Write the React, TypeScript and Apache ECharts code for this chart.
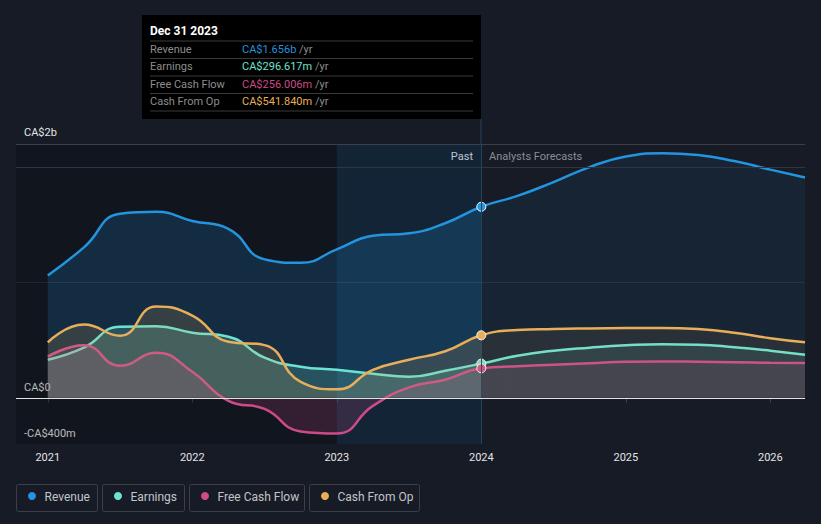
import React, { useEffect, useRef } from 'react';
import * as echarts from 'echarts';

// ---- data (values in CA$ millions) ----
const periods = [2021, 2021.25, 2021.5, 2021.75, 2022, 2022.25, 2022.5, 2022.75, 2023, 2023.25, 2023.5, 2023.75, 2024, 2024.25, 2024.5, 2024.75, 2025, 2025.25, 2025.5, 2025.75, 2026, 2026.24];
const revenue = [1061, 1304, 1596, 1613, 1533, 1465, 1200, 1170, 1287, 1404, 1426, 1513, 1656, 1750, 1870, 2000, 2091, 2119, 2104, 2052, 1978, 1910];
const earnings = [330, 435, 617, 620, 565, 530, 348, 270, 243, 209, 183, 235, 297, 365, 409, 435, 455, 465, 461, 439, 409, 374];
const freeCashFlow = [357, 455, 278, 391, 226, -26, -96, -291, -309, -70, 91, 157, 256, 274, 287, 300, 313, 316, 313, 309, 304, 302];
const cashFromOp = [481, 635, 539, 791, 713, 487, 457, 139, 74, 243, 330, 404, 542, 587, 597, 602, 605, 606, 596, 565, 517, 481];

const seriesNames = ['Revenue', 'Earnings', 'Free Cash Flow', 'Cash From Op'];
const seriesColors = ['#2394DF', '#6CE3D0', '#CC4B88', '#E8AE5A'];
const tooltipValues = ['CA$1.656b', 'CA$296.617m', 'CA$256.006m', 'CA$541.840m'];
const tooltipTitle = 'Dec 31 2023';

const xTickValues = [2021, 2022, 2023, 2024, 2025, 2026];
const yLabelValues = [-400, 0, 2000];
const yLabelTexts = ['-CA$400m', 'CA$0', 'CA$2b'];
const gridLineValues = [2200, 2000, 1000];
const nowPeriod = 2024;
const highlightStart = 2023;
const xMin = 2020.78;
const xMax = 2026.24;

const FONT = 'Roboto, "Noto Sans", sans-serif';

function hexA(hex: string, a: number) {
  const r = parseInt(hex.slice(1, 3), 16);
  const g = parseInt(hex.slice(3, 5), 16);
  const b = parseInt(hex.slice(5, 7), 16);
  return `rgba(${r},${g},${b},${a})`;
}

export default function App() {
  const ref = useRef<HTMLDivElement>(null);

  useEffect(() => {
    if (!ref.current) return;
    const chart = echarts.init(ref.current, undefined, { renderer: 'svg' });

    const allData = [revenue, earnings, freeCashFlow, cashFromOp];
    const split = (nowPeriod - periods[0]) / (periods[periods.length - 1] - periods[0]);
    const pastAlpha = [0.26, 0.3, 0.26, 0.22];
    const futAlpha = [0.11, 0.16, 0.18, 0.12];

    const series: any[] = allData.map((vals, si) => {
      const color = seriesColors[si];
      const data = vals.map((v, i) => {
        if (periods[i] === nowPeriod) {
          return {
            value: [periods[i], v],
            symbol: 'circle',
            symbolSize: 9,
            itemStyle: { color, borderColor: '#ffffff', borderWidth: 1 },
          };
        }
        return { value: [periods[i], v], symbol: 'none' };
      });
      const s: any = {
        name: seriesNames[si],
        type: 'line',
        data,
        smooth: 0.5,
        symbol: 'none',
        lineStyle: { color, width: 2.5 },
        itemStyle: { color },
        areaStyle: {
          color: new echarts.graphic.LinearGradient(0, 0, 1, 0, [
            { offset: 0, color: hexA(color, pastAlpha[si]) },
            { offset: split, color: hexA(color, pastAlpha[si]) },
            { offset: split, color: hexA(color, futAlpha[si]) },
            { offset: 1, color: hexA(color, futAlpha[si]) },
          ]),
        },
        emphasis: { disabled: true },
        silent: true,
        z: 2 + si,
      };
      return s;
    });

    series[0].markArea = {
      silent: true,
      data: [
        [{ xAxis: xMin, itemStyle: { color: 'rgba(0,0,0,0.2)' } }, { xAxis: nowPeriod }],
        [{ xAxis: highlightStart, itemStyle: { color: 'rgba(35,148,223,0.12)' } }, { xAxis: nowPeriod }],
      ],
    };
    series[0].markLine = {
      silent: true,
      symbol: 'none',
      label: { show: false },
      data: [
        ...gridLineValues.map((v, i) => ({
          yAxis: v,
          lineStyle: { color: i === 2 ? 'rgba(255,255,255,0.07)' : i === 0 ? '#3a3f49' : '#30353f', width: 1, type: 'solid' },
        })),
        { xAxis: nowPeriod, lineStyle: { color: '#25425b', width: 1, type: 'solid' } },
      ],
    };
    series[3].markLine = {
      silent: true,
      symbol: 'none',
      label: { show: false },
      data: [{ yAxis: 0, lineStyle: { color: '#e2e2e2', width: 1, type: 'solid' } }],
    };

    const legendX = [16.5, 102.5, 189.5, 309.5];
    const legendW = [81, 82, 115, 110];
    const legendGraphics: any[] = [];
    seriesNames.forEach((n, i) => {
      legendGraphics.push({
        type: 'rect',
        shape: { x: legendX[i], y: 484.5, width: legendW[i], height: 27, r: 2 },
        style: { fill: 'transparent', stroke: '#3a3f4a', lineWidth: 1 },
      });
      legendGraphics.push({
        type: 'circle',
        shape: { cx: legendX[i] + 15.5, cy: 496, r: 4 },
        style: { fill: seriesColors[i] },
      });
      legendGraphics.push({
        type: 'text',
        x: legendX[i] + 28,
        y: 496.5,
        style: { text: n, fill: '#c2c4c8', font: `12px ${FONT}`, verticalAlign: 'middle', align: 'left' },
      });
    });

    const tipGraphics: any[] = [
      { type: 'rect', shape: { x: 142, y: 15, width: 339, height: 104 }, style: { fill: '#000000' } },
      { type: 'text', x: 150, y: 31, style: { text: tooltipTitle, fill: '#ffffff', font: `bold 12px ${FONT}`, verticalAlign: 'middle' } },
    ];
    const rowY = [49.3, 66.7, 84.3, 101.7];
    const sepY = [41, 58.5, 76, 93.5, 111];
    sepY.forEach((y) => {
      tipGraphics.push({ type: 'line', shape: { x1: 150, y1: y, x2: 473, y2: y }, style: { stroke: '#3a3a3a', lineWidth: 1 } });
    });
    seriesNames.forEach((n, i) => {
      tipGraphics.push({ type: 'text', x: 150, y: rowY[i], style: { text: n, fill: '#8d8d8d', font: `11px ${FONT}`, verticalAlign: 'middle' } });
      tipGraphics.push({
        type: 'text',
        x: 242,
        y: rowY[i],
        style: {
          text: `{v|${tooltipValues[i]}}{u| /yr}`,
          verticalAlign: 'middle',
          rich: {
            v: { fill: seriesColors[i], font: `11px ${FONT}` },
            u: { fill: '#8d8d8d', font: `11px ${FONT}` },
          },
        },
      });
    });

    const option: any = {
      animation: false,
      backgroundColor: '#161b26',
      textStyle: { fontFamily: FONT },
      grid: { left: 16, right: 16, top: 144, bottom: 80, containLabel: false },
      xAxis: {
        type: 'value',
        min: xMin,
        max: xMax,
        splitLine: { show: false },
        axisLine: { show: true, lineStyle: { color: '#3b404b', width: 1 } },
        axisTick: { show: true, customValues: xTickValues, length: 5, lineStyle: { color: '#3b404b' } },
        axisLabel: { customValues: xTickValues, color: '#e4e4e4', fontSize: 11, margin: 8, formatter: (v: number) => String(Math.round(v)) },
      },
      yAxis: {
        type: 'value',
        min: -400,
        max: 2200,
        interval: 200,
        splitLine: { show: false },
        axisLine: { show: false },
        axisTick: { show: false },
        axisLabel: {
          inside: true,
          margin: 8,
          color: '#e4e4e4',
          fontSize: 11,
          verticalAlign: 'bottom',
          padding: [0, 0, 5, 0],
          formatter: (v: number) => {
            const k = yLabelValues.indexOf(v);
            if (k < 0) return '';
            if (v === 2000) return `{hi|${yLabelTexts[k]}}`;
            return yLabelTexts[k];
          },
          rich: { hi: { color: '#e4e4e4', fontSize: 11, padding: [0, 0, 24, 0] } },
        },
      },
      series,
      graphic: [
        { type: 'line', shape: { x1: 481, y1: 119, x2: 481, y2: 144 }, style: { stroke: '#25425b', lineWidth: 1 } },
        { type: 'text', x: 473, y: 156, style: { text: 'Past', fill: '#ffffff', font: `11px ${FONT}`, align: 'right', verticalAlign: 'middle' } },
        { type: 'text', x: 489, y: 156, style: { text: 'Analysts Forecasts', fill: '#8a8d93', font: `11px ${FONT}`, align: 'left', verticalAlign: 'middle' } },
        ...tipGraphics,
        ...legendGraphics,
      ],
    };

    chart.setOption(option);
    return () => chart.dispose();
  }, []);

  return <div ref={ref} style={{ position: 'fixed', left: 0, top: 0, width: 821, height: 524 }} />;
}
